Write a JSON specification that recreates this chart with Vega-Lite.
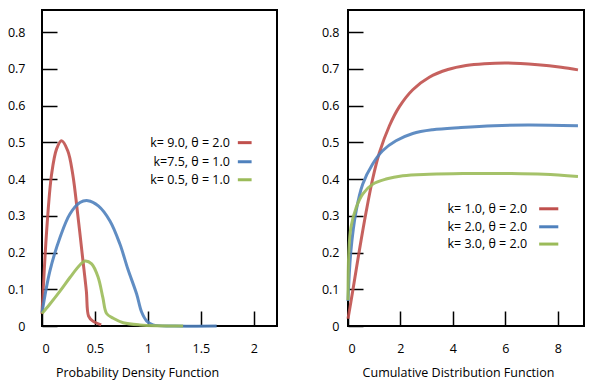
{
  "$schema": "https://vega.github.io/schema/vega-lite/v6.json",
  "padding": {"left": 6, "top": 9, "right": 5, "bottom": 5},
  "spacing": 42,
  "config": {
    "view": {"stroke": "black", "strokeWidth": 2},
    "font": "Open Sans",
    "axis": {
      "domain": false, "grid": false, "tickSize": -15, "tickColor": "black", "tickWidth": 1.5,
      "labelColor": "black", "labelFontSize": 12.5, "titleColor": "black", "titleFontSize": 12.5,
      "titleFontWeight": "normal", "format": "~g", "labelOverlap": false, "tickCount": 12
    }
  },
  "datasets": {
    "curves": [
      {"panel": "pdf", "series": "k= 9.0, θ = 2.0", "x": 0, "y": 0.033},
      {"panel": "pdf", "series": "k= 9.0, θ = 2.0", "x": 0.044, "y": 0.259},
      {"panel": "pdf", "series": "k= 9.0, θ = 2.0", "x": 0.091, "y": 0.414},
      {"panel": "pdf", "series": "k= 9.0, θ = 2.0", "x": 0.138, "y": 0.482},
      {"panel": "pdf", "series": "k= 9.0, θ = 2.0", "x": 0.184, "y": 0.504},
      {"panel": "pdf", "series": "k= 9.0, θ = 2.0", "x": 0.243, "y": 0.477},
      {"panel": "pdf", "series": "k= 9.0, θ = 2.0", "x": 0.29, "y": 0.414},
      {"panel": "pdf", "series": "k= 9.0, θ = 2.0", "x": 0.337, "y": 0.305},
      {"panel": "pdf", "series": "k= 9.0, θ = 2.0", "x": 0.384, "y": 0.185},
      {"panel": "pdf", "series": "k= 9.0, θ = 2.0", "x": 0.419, "y": 0.095},
      {"panel": "pdf", "series": "k= 9.0, θ = 2.0", "x": 0.44, "y": 0.027},
      {"panel": "pdf", "series": "k= 9.0, θ = 2.0", "x": 0.478, "y": 0.014},
      {"panel": "pdf", "series": "k= 9.0, θ = 2.0", "x": 0.559, "y": 0.003},
      {"panel": "pdf", "series": "k=7.5, θ = 1.0", "x": 0, "y": 0.036},
      {"panel": "pdf", "series": "k=7.5, θ = 1.0", "x": 0.075, "y": 0.15},
      {"panel": "pdf", "series": "k=7.5, θ = 1.0", "x": 0.17, "y": 0.241},
      {"panel": "pdf", "series": "k=7.5, θ = 1.0", "x": 0.264, "y": 0.305},
      {"panel": "pdf", "series": "k=7.5, θ = 1.0", "x": 0.359, "y": 0.336},
      {"panel": "pdf", "series": "k=7.5, θ = 1.0", "x": 0.434, "y": 0.341},
      {"panel": "pdf", "series": "k=7.5, θ = 1.0", "x": 0.532, "y": 0.327},
      {"panel": "pdf", "series": "k=7.5, θ = 1.0", "x": 0.642, "y": 0.286},
      {"panel": "pdf", "series": "k=7.5, θ = 1.0", "x": 0.736, "y": 0.223},
      {"panel": "pdf", "series": "k=7.5, θ = 1.0", "x": 0.811, "y": 0.155},
      {"panel": "pdf", "series": "k=7.5, θ = 1.0", "x": 0.894, "y": 0.087},
      {"panel": "pdf", "series": "k=7.5, θ = 1.0", "x": 0.941, "y": 0.038},
      {"panel": "pdf", "series": "k=7.5, θ = 1.0", "x": 0.988, "y": 0.014},
      {"panel": "pdf", "series": "k=7.5, θ = 1.0", "x": 1.048, "y": 0.003},
      {"panel": "pdf", "series": "k=7.5, θ = 1.0", "x": 1.255, "y": 0},
      {"panel": "pdf", "series": "k=7.5, θ = 1.0", "x": 1.65, "y": 0},
      {"panel": "pdf", "series": "k= 0.5, θ = 1.0", "x": 0, "y": 0.034},
      {"panel": "pdf", "series": "k= 0.5, θ = 1.0", "x": 0.075, "y": 0.06},
      {"panel": "pdf", "series": "k= 0.5, θ = 1.0", "x": 0.17, "y": 0.095},
      {"panel": "pdf", "series": "k= 0.5, θ = 1.0", "x": 0.264, "y": 0.132},
      {"panel": "pdf", "series": "k= 0.5, θ = 1.0", "x": 0.358, "y": 0.166},
      {"panel": "pdf", "series": "k= 0.5, θ = 1.0", "x": 0.406, "y": 0.177},
      {"panel": "pdf", "series": "k= 0.5, θ = 1.0", "x": 0.469, "y": 0.169},
      {"panel": "pdf", "series": "k= 0.5, θ = 1.0", "x": 0.531, "y": 0.132},
      {"panel": "pdf", "series": "k= 0.5, θ = 1.0", "x": 0.575, "y": 0.077},
      {"panel": "pdf", "series": "k= 0.5, θ = 1.0", "x": 0.61, "y": 0.034},
      {"panel": "pdf", "series": "k= 0.5, θ = 1.0", "x": 0.673, "y": 0.021},
      {"panel": "pdf", "series": "k= 0.5, θ = 1.0", "x": 0.767, "y": 0.009},
      {"panel": "pdf", "series": "k= 0.5, θ = 1.0", "x": 0.925, "y": 0.003},
      {"panel": "pdf", "series": "k= 0.5, θ = 1.0", "x": 1.333, "y": 0},
      {"panel": "cdf", "series": "k= 1.0, θ = 2.0", "x": 0, "y": 0.02},
      {"panel": "cdf", "series": "k= 1.0, θ = 2.0", "x": 0.18, "y": 0.095},
      {"panel": "cdf", "series": "k= 1.0, θ = 2.0", "x": 0.43, "y": 0.204},
      {"panel": "cdf", "series": "k= 1.0, θ = 2.0", "x": 0.69, "y": 0.31},
      {"panel": "cdf", "series": "k= 1.0, θ = 2.0", "x": 0.94, "y": 0.4},
      {"panel": "cdf", "series": "k= 1.0, θ = 2.0", "x": 1.19, "y": 0.47},
      {"panel": "cdf", "series": "k= 1.0, θ = 2.0", "x": 1.58, "y": 0.545},
      {"panel": "cdf", "series": "k= 1.0, θ = 2.0", "x": 1.96, "y": 0.597},
      {"panel": "cdf", "series": "k= 1.0, θ = 2.0", "x": 2.47, "y": 0.643},
      {"panel": "cdf", "series": "k= 1.0, θ = 2.0", "x": 3.1, "y": 0.677},
      {"panel": "cdf", "series": "k= 1.0, θ = 2.0", "x": 3.81, "y": 0.698},
      {"panel": "cdf", "series": "k= 1.0, θ = 2.0", "x": 4.5, "y": 0.709},
      {"panel": "cdf", "series": "k= 1.0, θ = 2.0", "x": 5.2, "y": 0.714},
      {"panel": "cdf", "series": "k= 1.0, θ = 2.0", "x": 6.1, "y": 0.716},
      {"panel": "cdf", "series": "k= 1.0, θ = 2.0", "x": 7.24, "y": 0.711},
      {"panel": "cdf", "series": "k= 1.0, θ = 2.0", "x": 8.13, "y": 0.704},
      {"panel": "cdf", "series": "k= 1.0, θ = 2.0", "x": 8.77, "y": 0.697},
      {"panel": "cdf", "series": "k= 2.0, θ = 2.0", "x": 0, "y": 0.068},
      {"panel": "cdf", "series": "k= 2.0, θ = 2.0", "x": 0.11, "y": 0.204},
      {"panel": "cdf", "series": "k= 2.0, θ = 2.0", "x": 0.31, "y": 0.313},
      {"panel": "cdf", "series": "k= 2.0, θ = 2.0", "x": 0.56, "y": 0.386},
      {"panel": "cdf", "series": "k= 2.0, θ = 2.0", "x": 0.94, "y": 0.441},
      {"panel": "cdf", "series": "k= 2.0, θ = 2.0", "x": 1.32, "y": 0.477},
      {"panel": "cdf", "series": "k= 2.0, θ = 2.0", "x": 1.83, "y": 0.504},
      {"panel": "cdf", "series": "k= 2.0, θ = 2.0", "x": 2.47, "y": 0.524},
      {"panel": "cdf", "series": "k= 2.0, θ = 2.0", "x": 3.23, "y": 0.534},
      {"panel": "cdf", "series": "k= 2.0, θ = 2.0", "x": 4.31, "y": 0.54},
      {"panel": "cdf", "series": "k= 2.0, θ = 2.0", "x": 5.57, "y": 0.545},
      {"panel": "cdf", "series": "k= 2.0, θ = 2.0", "x": 6.86, "y": 0.547},
      {"panel": "cdf", "series": "k= 2.0, θ = 2.0", "x": 8.77, "y": 0.545},
      {"panel": "cdf", "series": "k= 3.0, θ = 2.0", "x": 0, "y": 0.07},
      {"panel": "cdf", "series": "k= 3.0, θ = 2.0", "x": 0.03, "y": 0.2},
      {"panel": "cdf", "series": "k= 3.0, θ = 2.0", "x": 0.11, "y": 0.268},
      {"panel": "cdf", "series": "k= 3.0, θ = 2.0", "x": 0.31, "y": 0.322},
      {"panel": "cdf", "series": "k= 3.0, θ = 2.0", "x": 0.56, "y": 0.359},
      {"panel": "cdf", "series": "k= 3.0, θ = 2.0", "x": 0.94, "y": 0.386},
      {"panel": "cdf", "series": "k= 3.0, θ = 2.0", "x": 1.45, "y": 0.4},
      {"panel": "cdf", "series": "k= 3.0, θ = 2.0", "x": 2.09, "y": 0.409},
      {"panel": "cdf", "series": "k= 3.0, θ = 2.0", "x": 3.1, "y": 0.413},
      {"panel": "cdf", "series": "k= 3.0, θ = 2.0", "x": 4.37, "y": 0.415},
      {"panel": "cdf", "series": "k= 3.0, θ = 2.0", "x": 6.22, "y": 0.415},
      {"panel": "cdf", "series": "k= 3.0, θ = 2.0", "x": 7.48, "y": 0.413},
      {"panel": "cdf", "series": "k= 3.0, θ = 2.0", "x": 8.77, "y": 0.407}
    ],
    "legend": [
      {"panel": "pdf", "series": "k= 9.0, θ = 2.0", "tx": 1.775, "x1": 1.85, "x2": 1.98, "ly": 0.499},
      {"panel": "pdf", "series": "k=7.5, θ = 1.0", "tx": 1.775, "x1": 1.85, "x2": 1.98, "ly": 0.447},
      {"panel": "pdf", "series": "k= 0.5, θ = 1.0", "tx": 1.775, "x1": 1.85, "x2": 1.98, "ly": 0.398},
      {"panel": "cdf", "series": "k= 1.0, θ = 2.0", "tx": 6.83, "x1": 7.29, "x2": 8.02, "ly": 0.319},
      {"panel": "cdf", "series": "k= 2.0, θ = 2.0", "tx": 6.83, "x1": 7.29, "x2": 8.02, "ly": 0.27},
      {"panel": "cdf", "series": "k= 3.0, θ = 2.0", "tx": 6.83, "x1": 7.29, "x2": 8.02, "ly": 0.223}
    ]
  },
  "resolve": {"scale": {"color": "independent", "x": "independent", "y": "independent"}},
  "hconcat": [
    {
      "width": 235, "height": 316,
      "layer": [
        {
          "data": {"name": "curves"},
          "transform": [{"filter": "datum.panel == 'pdf'"}],
          "mark": {"type": "line", "strokeWidth": 3, "interpolate": "catmull-rom", "opacity": 0.9},
          "encoding": {
            "x": {"field": "x", "type": "quantitative", "scale": {"domain": [0, 2.22], "nice": false},
                  "axis": {"values": [0, 0.5, 1, 1.5, 2], "labelPadding": 31, "title": "Probability Density Function", "titlePadding": 12, "titleX": 95}},
            "y": {"field": "y", "type": "quantitative", "scale": {"domain": [0, 0.86], "nice": false},
                  "axis": {"values": [0, 0.1, 0.2, 0.3, 0.4, 0.5, 0.6, 0.7, 0.8], "labelPadding": 32, "title": null}},
            "color": {"field": "series", "type": "nominal", "legend": null,
                      "scale": {"domain": ["k= 9.0, θ = 2.0", "k=7.5, θ = 1.0", "k= 0.5, θ = 1.0"], "range": ["#c0504d", "#4f81bd", "#9bbb59"]}},
            "order": {"field": "x", "type": "quantitative"}
          }
        },
        {
          "data": {"name": "legend"},
          "transform": [{"filter": "datum.panel == 'pdf'"}],
          "mark": {"type": "text", "align": "right", "baseline": "middle", "fontSize": 12.5, "color": "black"},
          "encoding": {
            "x": {"field": "tx", "type": "quantitative"},
            "y": {"field": "ly", "type": "quantitative"},
            "text": {"field": "series"}
          }
        },
        {
          "data": {"name": "legend"},
          "transform": [{"filter": "datum.panel == 'pdf'"}],
          "mark": {"type": "rule", "strokeWidth": 3},
          "encoding": {
            "x": {"field": "x1", "type": "quantitative"},
            "x2": {"field": "x2"},
            "y": {"field": "ly", "type": "quantitative"},
            "color": {"field": "series", "type": "nominal", "legend": null}
          }
        }
      ]
    },
    {
      "width": 236, "height": 316,
      "layer": [
        {
          "data": {"name": "curves"},
          "transform": [{"filter": "datum.panel == 'cdf'"}],
          "mark": {"type": "line", "strokeWidth": 3, "interpolate": "catmull-rom", "opacity": 0.9},
          "encoding": {
            "x": {"field": "x", "type": "quantitative", "scale": {"domain": [0, 9], "nice": false},
                  "axis": {"values": [0, 2, 4, 6, 8], "labelPadding": 31, "title": "Cumulative Distribution  Function", "titlePadding": 12, "titleX": 110}},
            "y": {"field": "y", "type": "quantitative", "scale": {"domain": [0, 0.86], "nice": false},
                  "axis": {"values": [0, 0.1, 0.2, 0.3, 0.4, 0.5, 0.6, 0.7, 0.8], "labelPadding": 24, "title": null}},
            "color": {"field": "series", "type": "nominal", "legend": null,
                      "scale": {"domain": ["k= 1.0, θ = 2.0", "k= 2.0, θ = 2.0", "k= 3.0, θ = 2.0"], "range": ["#c0504d", "#4f81bd", "#9bbb59"]}},
            "order": {"field": "x", "type": "quantitative"}
          }
        },
        {
          "data": {"name": "legend"},
          "transform": [{"filter": "datum.panel == 'cdf'"}],
          "mark": {"type": "text", "align": "right", "baseline": "middle", "fontSize": 12.5, "color": "black"},
          "encoding": {
            "x": {"field": "tx", "type": "quantitative"},
            "y": {"field": "ly", "type": "quantitative"},
            "text": {"field": "series"}
          }
        },
        {
          "data": {"name": "legend"},
          "transform": [{"filter": "datum.panel == 'cdf'"}],
          "mark": {"type": "rule", "strokeWidth": 3},
          "encoding": {
            "x": {"field": "x1", "type": "quantitative"},
            "x2": {"field": "x2"},
            "y": {"field": "ly", "type": "quantitative"},
            "color": {"field": "series", "type": "nominal", "legend": null}
          }
        }
      ]
    }
  ]
}
